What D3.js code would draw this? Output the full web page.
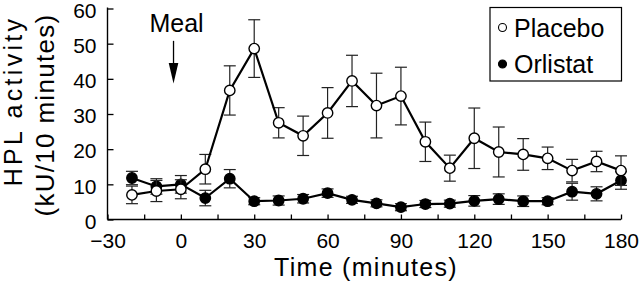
<!DOCTYPE html>
<html>
<head>
<meta charset="utf-8">
<script src="https://cdn.jsdelivr.net/npm/d3@7"></script>
<style>
  body { margin: 0; background: #fff; }
  text { font-family: "Liberation Sans", Arial, sans-serif; fill: #000; }
</style>
</head>
<body>
<div id="chart"></div>
<script>
// data
var times = [-20, -10, 0, 10, 20, 30, 40, 50, 60, 70, 80, 90, 100, 110, 120, 130, 140, 150, 160, 170, 180];
var placebo = [7.0, 8.1, 8.6, 14.3, 36.7, 48.6, 27.5, 23.8, 30.3, 39.4, 32.4, 35.1, 22.1, 14.6, 23.1, 19.2, 18.5, 17.4, 13.9, 16.5, 13.9];
var placeboErr = [2.5, 3.0, 2.7, 4.2, 7.0, 8.2, 4.3, 5.6, 7.2, 7.3, 9.2, 8.2, 5.6, 3.7, 8.6, 7.1, 4.5, 3.2, 3.2, 2.9, 4.2];
var orlistat = [11.8, 9.4, 10.0, 6.1, 11.6, 5.2, 5.4, 5.9, 7.5, 5.6, 4.6, 3.5, 4.4, 4.5, 5.3, 5.8, 5.2, 5.2, 7.9, 7.3, 11.1];
var orlistatErr = [1.9, 2.2, 2.5, 2.2, 2.6, 1.0, 1.3, 1.2, 1.2, 1.0, 1.0, 1.0, 1.0, 1.0, 1.5, 1.5, 1.5, 1.0, 2.4, 2.0, 2.5];
var xTicks = [-30, 0, 30, 60, 90, 120, 150, 180];
var xMinorTicks = [-15, 15, 45, 75, 105, 135, 165];
var yTicks = [0, 10, 20, 30, 40, 50, 60];
var mealTime = -3;

const width = 640, height = 281;
const margin = {top: 8.5, right: 19, bottom: 61.5, left: 107.5};
const plot_w = width - margin.left - margin.right,
    plot_h = height - margin.top - margin.bottom;

const svg = d3.select("#chart")
    .append("svg")
    .attr("width", width)
    .attr("height", height);

const g = svg.append("g")
    .attr("transform", `translate(${margin.left}, ${margin.top})`);

var x = d3.scaleLinear().domain([-30, 180]).range([0, plot_w]);
var y = d3.scaleLinear().domain([0, 60]).range([plot_h, 0]);

//
// AXES (ticks point inwards)
//
var x_axis = g.append("g")
    .attr("transform", "translate(0," + plot_h + ")")
    .call(d3.axisBottom(x).tickValues(xTicks).tickSize(-5).tickPadding(13))
var x_minor = g.append("g")
    .attr("transform", "translate(0," + plot_h + ")")
    .call(d3.axisBottom(x).tickValues(xMinorTicks).tickSize(-5).tickFormat(""))
x_minor.select(".domain").remove();

var y_axis = g.append("g")
    .call(d3.axisLeft(y).tickValues(yTicks).tickSize(-6).tickPadding(11))

g.selectAll(".domain").attr("stroke", "#000").attr("stroke-width", 1.4)
    .attr("d", null);
x_axis.select(".domain").attr("d", "M0,0H" + plot_w);
y_axis.select(".domain").attr("d", "M0," + (plot_h) + "V-1");
g.selectAll(".tick line").attr("stroke", "#000").attr("stroke-width", 1.3);
g.selectAll(".tick text").style("font-size", "21px").attr("fill", "#000");
y_axis.selectAll(".tick text").attr("dy", "0.42em");
x_axis.selectAll(".tick text").attr("dy", "0.74em");

// axis titles
svg.append("text")
    .attr("x", 366).attr("y", 276)
    .attr("text-anchor", "middle")
    .style("font-size", "25px")
    .style("letter-spacing", "1.3px")
    .text("Time (minutes)");

svg.append("text")
    .attr("transform", "translate(22,101) rotate(-90)")
    .attr("text-anchor", "middle")
    .style("font-size", "25px")
    .style("letter-spacing", "3.3px")
    .text("HPL activity");
svg.append("text")
    .attr("transform", "translate(54,115) rotate(-90)")
    .attr("text-anchor", "middle")
    .style("font-size", "26px")
    .style("letter-spacing", "1.3px")
    .text("(kU/10 minutes)");

//
// SERIES
//
function draw_series(vals, errs, filled) {
    var data = times.map((t, i) => ({t: t, v: vals[i], e: errs[i]}));
    var s = g.append("g");
    var eb = s.selectAll(".eb").data(data).enter().append("g").attr("stroke", "#222").attr("stroke-width", 1.2);
    eb.append("line")
        .attr("x1", d => x(d.t)).attr("x2", d => x(d.t))
        .attr("y1", d => y(d.v - d.e)).attr("y2", d => y(d.v + d.e));
    eb.append("line")
        .attr("x1", d => x(d.t) - 6).attr("x2", d => x(d.t) + 6)
        .attr("y1", d => y(d.v + d.e)).attr("y2", d => y(d.v + d.e));
    eb.append("line")
        .attr("x1", d => x(d.t) - 6).attr("x2", d => x(d.t) + 6)
        .attr("y1", d => y(d.v - d.e)).attr("y2", d => y(d.v - d.e));
    s.append("path")
        .datum(data)
        .attr("fill", "none")
        .attr("stroke", "#000")
        .attr("stroke-width", 2.2)
        .attr("d", d3.line().x(d => x(d.t)).y(d => y(d.v)));
    s.selectAll("circle").data(data).enter().append("circle")
        .attr("cx", d => x(d.t)).attr("cy", d => y(d.v))
        .attr("r", 5.2)
        .attr("fill", filled ? "#000" : "#fff")
        .attr("stroke", "#000")
        .attr("stroke-width", 1.4);
}
draw_series(orlistat, orlistatErr, true);
draw_series(placebo, placeboErr, false);

//
// MEAL ARROW
//
var mx = x(mealTime);
g.append("text")
    .attr("x", mx + 3).attr("y", y(53.2))
    .attr("text-anchor", "middle")
    .style("font-size", "25px")
    .text("Meal");
g.append("line")
    .attr("x1", mx).attr("x2", mx)
    .attr("y1", y(50.8)).attr("y2", y(44))
    .attr("stroke", "#000").attr("stroke-width", 1.3);
g.append("path")
    .attr("d", `M${mx - 4.8},${y(44.5)}L${mx + 4.8},${y(44.5)}L${mx},${y(38.7)}Z`)
    .attr("fill", "#000");

//
// LEGEND
//
var legend = svg.append("g").attr("transform", "translate(490,7.5)");
legend.append("rect")
    .attr("width", 131.5).attr("height", 73.5)
    .attr("fill", "#fff").attr("stroke", "#000").attr("stroke-width", 1.2);
var legend_items = [{name: "Placebo", fill: "#fff"}, {name: "Orlistat", fill: "#000"}];
legend_items.forEach(function (d, i) {
    legend.append("circle")
        .attr("cx", 12.5).attr("cy", 20 + i * 36.5)
        .attr("r", 4)
        .attr("fill", d.fill).attr("stroke", "#000").attr("stroke-width", 1.1);
    legend.append("text")
        .attr("x", 24).attr("y", 29 + i * 36.5)
        .style("font-size", "25px")
        .text(d.name);
});
</script>
</body>
</html>
